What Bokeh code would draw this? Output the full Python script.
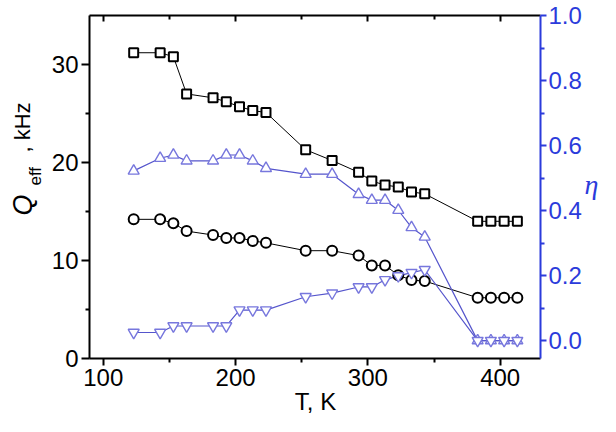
import math
from bokeh.plotting import figure
from bokeh.models import Range1d, LinearAxis, Label, FixedTicker, PrintfTickFormatter
from bokeh.embed import file_html
from bokeh.resources import INLINE

# ---- data ----
T = [123, 143, 153, 163, 183, 193, 203, 213, 223, 253, 273, 293, 303, 313, 323, 333, 343, 383, 393, 403, 413]
Q_square = [31.2, 31.2, 30.8, 27.0, 26.6, 26.2, 25.7, 25.3, 25.1, 21.3, 20.2, 19.0, 18.1, 17.7, 17.5, 17.0, 16.8, 14.0, 14.0, 14.0, 14.0]
Q_circle = [14.2, 14.2, 13.8, 13.0, 12.6, 12.3, 12.3, 12.0, 11.8, 11.0, 11.0, 10.5, 9.5, 9.5, 8.5, 8.0, 7.9, 6.2, 6.2, 6.2, 6.2]
eta_up = [0.522, 0.561, 0.571, 0.553, 0.553, 0.571, 0.571, 0.553, 0.530, 0.512, 0.512, 0.450, 0.432, 0.432, 0.401, 0.348, 0.319, 0.0, 0.0, 0.0, 0.0]
eta_down = [0.025, 0.025, 0.045, 0.045, 0.045, 0.045, 0.094, 0.094, 0.094, 0.135, 0.146, 0.165, 0.165, 0.187, 0.199, 0.209, 0.218, 0.0, 0.0, 0.0, 0.0]

x_ticks = [100, 200, 300, 400]
x_minor = [150, 250, 350]
q_ticks = [0, 10, 20, 30]
q_minor = [5, 15, 25]
eta_ticks = [0.0, 0.2, 0.4, 0.6, 0.8, 1.0]
eta_minor = [0.1, 0.3, 0.5, 0.7, 0.9]

X_LIM = (89.6, 430.5)
Q_LIM = (0.0, 35.0)
ETA_LIM = (-0.055, 1.0)

# ---- layout (pixels, figure coordinates; page adds an 8px margin) ----
W, H = 600, 416
PL, PR, PT, PB = 89, 540, 15, 358   # plot-area box inside the canvas


def full_range(lo, hi, a_px, b_px, total):
    """Data range spanning the whole canvas, given lo->a_px and hi->b_px (a_px < b_px)."""
    s = (b_px - a_px) / (hi - lo)
    return Range1d(lo - a_px / s, hi + (total - b_px) / s)


x_rng = full_range(X_LIM[0], X_LIM[1], PL, PR, W)
q_rng = full_range(Q_LIM[0], Q_LIM[1], H - PB, H - PT, H)
eta_rng = full_range(ETA_LIM[0], ETA_LIM[1], H - PB, H - PT, H)

FONT = "Liberation Sans"
BLUE_AXIS = "#2b3bdb"
BLUE_LINE = "#5555cc"
BLUE_MARK = "#7777dd"

p = figure(width=W, height=H, output_backend="svg", toolbar_location=None, title=None,
           x_range=x_rng, y_range=q_rng,
           x_axis_location=None, y_axis_location=None,
           min_border=0, min_border_left=0, min_border_right=0, min_border_top=0, min_border_bottom=0)
p.extra_y_ranges = {"eta": eta_rng}
p.grid.visible = False
p.outline_line_color = None
p.background_fill_color = "white"
p.border_fill_color = "white"


def style_axis(ax, color="black"):
    ax.axis_line_width = 2
    ax.axis_line_color = color
    ax.major_tick_line_width = 2
    ax.minor_tick_line_width = 2
    ax.major_tick_line_color = color
    ax.minor_tick_line_color = color
    ax.major_label_text_font = FONT
    ax.major_label_text_font_size = "24px"
    ax.major_label_text_color = color
    ax.major_tick_in = 0
    ax.major_tick_out = 8
    ax.minor_tick_in = 0
    ax.minor_tick_out = 4


bottom = LinearAxis(ticker=FixedTicker(ticks=x_ticks, minor_ticks=x_minor),
                    fixed_location=Q_LIM[0], bounds=X_LIM)
style_axis(bottom)
bottom.major_tick_out = 7
bottom.major_label_standoff = 3
p.add_layout(bottom, "below")

left = LinearAxis(ticker=FixedTicker(ticks=q_ticks, minor_ticks=q_minor),
                  fixed_location=X_LIM[0], bounds=Q_LIM)
style_axis(left)
left.major_label_standoff = 3
p.add_layout(left, "left")

top = LinearAxis(ticker=FixedTicker(ticks=x_ticks, minor_ticks=x_minor),
                 fixed_location=Q_LIM[1], bounds=X_LIM)
style_axis(top)
top.major_tick_in = 6
top.major_tick_out = 0
top.minor_tick_in = 4
top.minor_tick_out = 0
top.major_label_text_color = None
top.major_label_text_font_size = "1px"
top.major_label_standoff = 0
p.add_layout(top, "above")

right = LinearAxis(y_range_name="eta", ticker=FixedTicker(ticks=eta_ticks, minor_ticks=eta_minor),
                   formatter=PrintfTickFormatter(format="%.1f"),
                   fixed_location=X_LIM[1], bounds=ETA_LIM)
style_axis(right, BLUE_AXIS)
right.major_tick_out = 6
right.minor_tick_out = 4
right.major_label_standoff = 2
p.add_layout(right, "right")

# connecting lines
p.line(T, Q_square, line_color="black", line_width=1)
p.line(T, Q_circle, line_color="black", line_width=1)
p.line(T, eta_up, line_color=BLUE_LINE, line_width=1.2, y_range_name="eta")
p.line(T, eta_down, line_color=BLUE_LINE, line_width=1.2, y_range_name="eta")

# markers
p.scatter(T, Q_square, marker="square", size=9, line_color="black", line_width=2, fill_color="white")
p.scatter(T, Q_circle, marker="circle", size=10, line_color="black", line_width=2, fill_color="white")
p.scatter(T, eta_up, marker="triangle", size=11, line_color=BLUE_MARK, line_width=1.4,
          fill_color="white", y_range_name="eta")
p.scatter(T, eta_down, marker="inverted_triangle", size=11, line_color=BLUE_MARK, line_width=1.4,
          fill_color="white", y_range_name="eta")

# axis titles (screen units: x from left edge, y from bottom edge of canvas)
common = dict(x_units="screen", y_units="screen", text_baseline="alphabetic")
p.add_layout(Label(x=22, y=201, text="Q", angle=math.pi / 2, text_font=FONT, text_color="black",
                   text_font_style="italic", text_font_size="27px", text_align="left", **common))
p.add_layout(Label(x=35, y=231, text="eff", angle=math.pi / 2, text_font=FONT, text_color="black",
                   text_font_size="17px", text_align="left", **common))
p.add_layout(Label(x=22, y=264, text=",  kHz", angle=math.pi / 2, text_font=FONT, text_color="black",
                   text_font_size="22px", text_align="left", **common))
p.add_layout(Label(x=315, y=15, text="T, K", text_font=FONT, text_color="black",
                   text_font_size="24px", text_align="center", **common))
p.add_layout(Label(x=584, y=232, text="η", text_font="Liberation Serif", text_font_style="italic",
                   text_font_size="28px", text_color=BLUE_AXIS, text_align="left", **common))

open("out.html", "w").write(file_html(p, INLINE))
